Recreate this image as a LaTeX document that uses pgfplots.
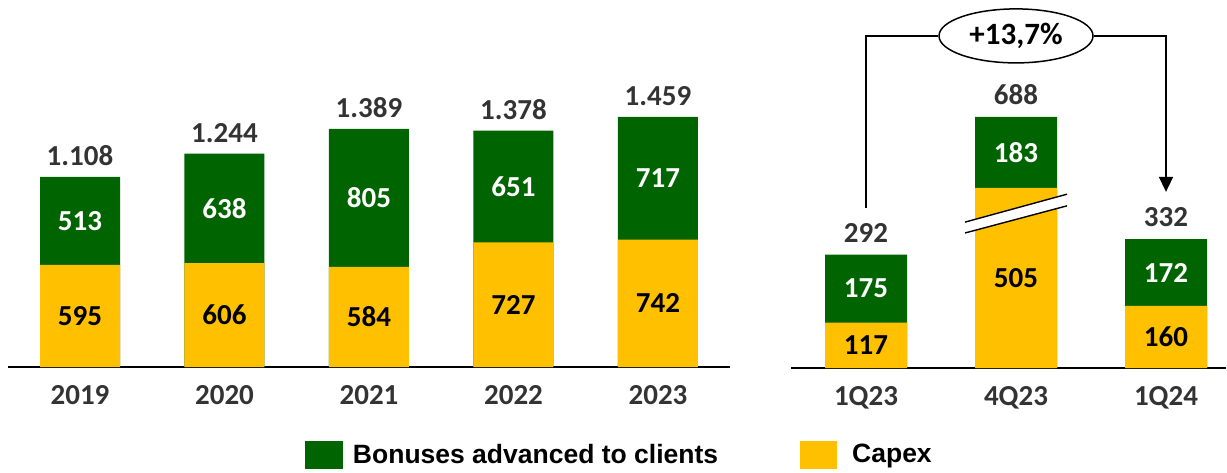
\documentclass[border=0pt]{standalone}
\usepackage{fontspec}
\setmainfont{Carlito}
\newfontfamily\arialf{Liberation Sans}
\usepackage{pgfplots}
\pgfplotsset{compat=1.18}
\usepackage{pgfplotstable}
\usetikzlibrary{shapes.geometric,arrows.meta}
\definecolor{gr}{RGB}{0,100,0}
\definecolor{yl}{RGB}{255,192,0}
\definecolor{dk}{RGB}{51,51,51}
\newcommand\lbl{\fontsize{14.5}{17}\selectfont\bfseries}

\pgfplotstableread{
x cap bon tot totlab
0 595 513 1108 1.108
1 606 638 1244 1.244
2 584 805 1389 1.389
3 727 651 1378 1.378
4 742 717 1459 1.459
}\annual

% 4Q23 is drawn with a broken (shortened) Capex bar: capshown / totshown
\pgfplotstableread{
x cap capshown bon tot totshown
0 117 117 175 292 292
1 505 464 183 688 647
2 160 160 172 332 332
}\quarterly

\begin{document}
\begin{tikzpicture}
\useasboundingbox (0,0) rectangle (613.5pt,236pt);

% ---------------- annual chart ----------------
\begin{axis}[
  at={(3.875pt,52.5pt)}, anchor=south west,
  scale only axis, width=361.25pt, height=137.2pt,
  xmin=-0.5, xmax=4.5, ymin=0, ymax=1600,
  axis x line*=bottom, hide y axis,
  axis line style={line width=0.75pt, black},
  xtick={0,1,2,3,4}, xticklabels={2019,2020,2021,2022,2023},
  major tick length=0pt, xtick style={draw=none},
  xticklabel style={font=\lbl, text=dk, anchor=center, yshift=-14.25pt},
  clip=false,
  legend columns=2,
  legend style={at={(0.4114,-0.3207)}, anchor=west, draw=none, fill=none,
    inner sep=0pt, outer sep=0pt,
    font=\arialf\fontsize{13.25}{15}\selectfont\bfseries,
    nodes={inner sep=2pt},
    /tikz/every even column/.append style={column sep=39pt}},
]
\addplot[ybar, bar width=40pt, bar shift=0pt, fill=gr, draw=none,
  legend image code/.code={\fill[gr] (0pt,-7pt) rectangle (19pt,7pt); \path (22pt,0pt);}]
  table[x=x, y=tot]{\annual};
\addlegendentry{Bonuses advanced to clients}
\addplot[ybar, bar width=40pt, bar shift=0pt, fill=yl, draw=none,
  legend image code/.code={\fill[yl] (0pt,-7pt) rectangle (18.5pt,7pt); \path (24pt,0pt);}]
  table[x=x, y=cap]{\annual};
\addlegendentry{Capex}

\addplot[draw=none, mark=none, forget plot, nodes near coords, point meta=explicit symbolic,
  nodes near coords style={anchor=center, font=\lbl, text=black}]
  table[x=x, y expr=\thisrow{cap}/2, meta=cap]{\annual};
\addplot[draw=none, mark=none, forget plot, nodes near coords, point meta=explicit symbolic,
  nodes near coords style={anchor=center, font=\lbl, text=white}]
  table[x=x, y expr=\thisrow{cap}+\thisrow{bon}/2, meta=bon]{\annual};
\addplot[draw=none, mark=none, forget plot, nodes near coords, point meta=explicit symbolic,
  nodes near coords style={anchor=center, font=\lbl, text=dk, yshift=10.5pt}]
  table[x=x, y=tot, meta=totlab]{\annual};
\end{axis}

% ---------------- quarterly chart ----------------
\begin{axis}[
  at={(395.5pt,52pt)}, anchor=south west,
  scale only axis, width=217.5pt, height=174.6pt,
  xmin=-0.5, xmax=2.4, ymin=0, ymax=900,
  axis x line*=bottom, hide y axis,
  axis line style={line width=0.75pt, black},
  xtick={0,1,2}, xticklabels={1Q23,4Q23,1Q24},
  major tick length=0pt, xtick style={draw=none},
  xticklabel style={font=\lbl, text=dk, anchor=center, yshift=-15pt},
  clip=false,
]
\addplot[ybar, bar width=41pt, bar shift=0pt, fill=gr, draw=none]
  table[x=x, y=totshown]{\quarterly};
\addplot[ybar, bar width=41pt, bar shift=0pt, fill=yl, draw=none]
  table[x=x, y=capshown]{\quarterly};

% axis break on the 4Q23 Capex bar
\fill[white] (axis cs:0.66,348) -- (axis cs:1.34,418) -- (axis cs:1.34,448) -- (axis cs:0.66,376) -- cycle;
\draw[line width=0.7pt] (axis cs:0.66,376) -- (axis cs:1.34,448);
\draw[line width=0.7pt] (axis cs:0.66,348) -- (axis cs:1.34,418);

\addplot[draw=none, mark=none, nodes near coords, point meta=explicit symbolic,
  nodes near coords style={anchor=center, font=\lbl, text=black}]
  table[x=x, y expr=\thisrow{capshown}/2, meta=cap]{\quarterly};
\addplot[draw=none, mark=none, nodes near coords, point meta=explicit symbolic,
  nodes near coords style={anchor=center, font=\lbl, text=white}]
  table[x=x, y expr=\thisrow{capshown}+\thisrow{bon}/2, meta=bon]{\quarterly};
\addplot[draw=none, mark=none, nodes near coords, point meta=explicit symbolic,
  nodes near coords style={anchor=center, font=\lbl, text=dk, yshift=11pt}]
  table[x=x, y=totshown, meta=tot]{\quarterly};

% growth bracket
\node[draw, ellipse, line width=0.75pt, minimum width=77pt, minimum height=27pt,
  inner sep=0pt, font=\fontsize{15.5}{18}\selectfont\bfseries, text=black]
  (pct) at (axis cs:1,856) {+13,7\%};
\draw[line width=0.85pt] (axis cs:0,412) |- (pct.west);
\draw[line width=0.85pt, -{Triangle[width=7pt,length=7.5pt]}] (pct.east) -| (axis cs:2,454);
\end{axis}
\end{tikzpicture}
\end{document}
